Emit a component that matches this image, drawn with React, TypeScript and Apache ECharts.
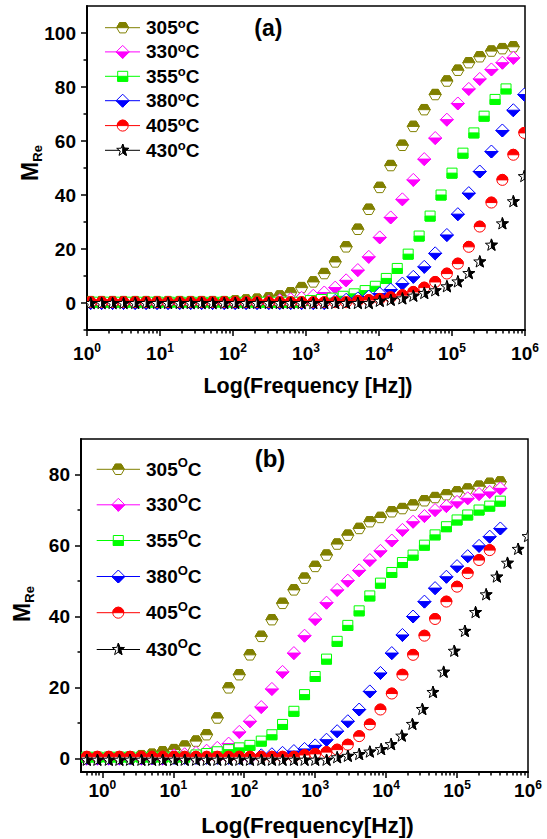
import React, { useEffect, useRef } from 'react';
import * as echarts from 'echarts';

// ---------- data ----------
const TEMPS = ['305', '330', '355', '380', '405', '430'];
const COLORS = ['#808000', '#FF00FF', '#00FF00', '#0000FF', '#FF0000', '#000000'];

// log10(frequency / Hz) of measured points
const LOGF_A = [0.05, 0.20, 0.35, 0.50, 0.66, 0.81, 0.96, 1.11, 1.27, 1.42, 1.57, 1.72, 1.88, 2.03, 2.18, 2.33, 2.49, 2.64, 2.79, 2.94,
  3.10, 3.25, 3.40, 3.55, 3.71, 3.86, 4.01, 4.16, 4.32, 4.47, 4.62, 4.77, 4.93, 5.08, 5.23, 5.38, 5.54, 5.69, 5.84, 5.99];
const LOGF_A_355 = [0.08, 0.23, 0.38, 0.53, 0.68, 0.83, 0.97, 1.12, 1.27, 1.42, 1.57, 1.72, 1.87, 2.02, 2.17, 2.32, 2.46, 2.61, 2.76, 2.91,
  3.06, 3.21, 3.36, 3.51, 3.66, 3.81, 3.95, 4.10, 4.25, 4.40, 4.55, 4.70, 4.85, 5.00, 5.15, 5.30, 5.44, 5.59, 5.74];
const LOGF_B = [-0.22, -0.07, 0.09, 0.24, 0.39, 0.55, 0.70, 0.85, 1.01, 1.16, 1.32, 1.47, 1.62, 1.78, 1.93, 2.08, 2.24, 2.39, 2.54, 2.70,
  2.85, 3.00, 3.16, 3.31, 3.46, 3.62, 3.77, 3.92, 4.08, 4.23, 4.38, 4.54, 4.69, 4.85, 5.00, 5.15, 5.31, 5.46, 5.61];
const LOGF_B_430 = [-0.22, -0.07, 0.09, 0.24, 0.39, 0.55, 0.70, 0.85, 1.01, 1.16, 1.32, 1.47, 1.62, 1.78, 1.93, 2.08, 2.24, 2.39, 2.54, 2.70,
  2.85, 3.00, 3.16, 3.31, 3.46, 3.62, 3.77, 3.93, 4.07, 4.22, 4.37, 4.51, 4.66, 4.81, 4.96, 5.11, 5.26, 5.41, 5.56, 5.71, 5.86, 6.00];

// panel (a) M_Re values
const A_305 = [0.5, 0.5, 0.5, 0.5, 0.5, 0.5, 0.5, 0.5, 0.5, 0.5, 0.5, 0.5, 0.5, 0.8, 1.1, 1.4, 1.9, 2.6, 3.8, 5.7,
  7.8, 10.9, 15.2, 20.8, 27.3, 34.7, 42.8, 50.9, 58.4, 65.4, 71.6, 77.2, 82.2, 86.2, 89.0, 91.2, 93.3, 94.2, 94.9];
const A_330 = [0.2, 0.2, 0.2, 0.2, 0.2, 0.2, 0.2, 0.2, 0.2, 0.2, 0.2, 0.2, 0.2, 0.2, 0.2, 0.2, 0.6, 1.0, 1.4, 1.9,
  2.7, 3.9, 5.7, 8.4, 12.2, 17.1, 24.3, 31.7, 38.4, 45.6, 53.3, 61.1, 67.9, 73.9, 79.3, 83.0, 86.5, 89.0, 90.8];
const A_355 = [0.3, 0.3, 0.3, 0.3, 0.3, 0.3, 0.3, 0.3, 0.3, 0.3, 0.3, 0.3, 0.3, 0.3, 0.3, 0.3, 0.3, 0.3, 0.3, 0.3,
  0.9, 1.3, 1.8, 2.5, 3.4, 4.6, 6.2, 9.1, 12.8, 18.1, 24.8, 32.2, 40.0, 48.1, 55.5, 63.0, 69.2, 75.4, 79.3];
const A_380 = [0, 0, 0, 0, 0, 0, 0, 0, 0, 0, 0, 0, 0, 0, 0, 0, 0, 0, 0, 0, 0, 0,
  0.8, 1.2, 1.7, 2.4, 3.5, 5.0, 7.2, 9.7, 13.4, 18.4, 25.2, 32.9, 40.7, 48.7, 56.1, 63.9, 71.4, 77.2];
const A_405 = [0.3, 0.3, 0.3, 0.3, 0.3, 0.3, 0.3, 0.3, 0.3, 0.3, 0.3, 0.3, 0.3, 0.3, 0.3, 0.3, 0.3, 0.3, 0.3, 0.3, 0.3, 0.3, 0.3, 0.3,
  0.8, 1.1, 1.5, 2.1, 2.9, 4.1, 5.7, 7.8, 10.9, 14.6, 20.8, 28.3, 37.2, 45.6, 54.9, 63.0];
const A_430 = [-0.2, -0.2, -0.2, -0.2, -0.2, -0.2, -0.2, -0.2, -0.2, -0.2, -0.2, -0.2, -0.2, -0.2, -0.2, -0.2, -0.2, -0.2, -0.2, -0.2,
  -0.2, -0.2, -0.2, -0.2, -0.2, -0.2, 0.6, 1.0, 1.5, 2.5, 3.5, 4.5, 6.0, 7.8, 10.9, 15.2, 21.4, 29.3, 37.5, 46.8];

// panel (b) M_Re values
const B_305 = [0.3, 0.3, 0.3, 0.3, 0.5, 0.8, 1.2, 1.9, 2.5, 3.5, 4.9, 6.7, 11.4, 19.9, 23.6, 29.2, 34.4, 39.1, 43.7, 47.5,
  50.8, 54.1, 57.3, 60.4, 62.9, 64.8, 66.7, 67.9, 69.5, 70.4, 71.4, 72.6, 73.5, 74.3, 75.1, 75.9, 76.7, 77.5, 77.9];
const B_330 = [0, 0, 0, 0, 0, 0, 0, 0, 0.9, 1.2, 1.6, 2.2, 3.0, 4.2, 7.5, 10.5, 14.5, 19.6, 24.4, 29.7,
  34.6, 39.3, 43.9, 47.5, 50.1, 53.0, 55.9, 58.5, 61.4, 64.4, 66.7, 68.3, 70.0, 71.1, 72.3, 73.3, 74.5, 75.1, 76.1];
const B_355 = [0.4, 0.4, 0.4, 0.4, 0.4, 0.4, 0.4, 0.4, 0.4, 0.4, 1.0, 1.4, 1.9, 2.5, 3.0, 3.7, 4.9, 6.7, 9.6, 13.3,
  18.0, 23.1, 28.0, 33.0, 37.5, 41.6, 45.8, 49.4, 52.4, 55.2, 57.3, 60.1, 63.0, 65.3, 67.2, 68.6, 70.0, 71.1, 72.5];
const B_380 = [0.2, 0.2, 0.2, 0.2, 0.2, 0.2, 0.2, 0.2, 0.2, 0.2, 0.2, 0.2, 0.2, 0.2, 0.2, 0.2, 0.9, 1.2, 1.6, 2.1,
  2.7, 3.7, 5.3, 7.7, 10.5, 13.8, 18.9, 24.1, 29.7, 34.8, 40.0, 44.2, 48.0, 51.2, 54.2, 57.0, 59.9, 62.5, 64.8];
const B_405 = [0.5, 0.5, 0.5, 0.5, 0.5, 0.5, 0.5, 0.5, 0.5, 0.5, 0.5, 0.5, 0.5, 0.5, 0.5, 0.5, 0.5, 0.5, 0.5, 0.5,
  1.0, 1.3, 1.8, 2.5, 3.9, 6.3, 9.6, 13.8, 18.3, 23.6, 29.2, 34.6, 39.3, 44.2, 48.4, 52.2, 55.9, 58.7];
const B_430 = [-0.5, -0.5, -0.5, -0.5, -0.5, -0.5, -0.5, -0.5, -0.5, -0.5, -0.5, -0.5, -0.5, -0.5, -0.5, -0.5, -0.5, -0.5, -0.5, -0.5,
  -0.5, -0.5, -0.5, 0.2, 0.6, 1.1, 1.8, 2.5, 3.9, 6.3, 9.6, 13.8, 18.6, 24.3, 30.2, 35.8, 41.1, 46.1, 51.1, 55.0, 58.9, 62.5];

// ticks
const X_TICK_EXP = [0, 1, 2, 3, 4, 5, 6];
const LOG_MULT = [2, 3, 4, 5, 6, 7, 8, 9];
const Y_TICKS_A = [0, 20, 40, 60, 80, 100];
const Y_MINOR_A = [-10, 10, 30, 50, 70, 90];
const Y_TICKS_B = [0, 20, 40, 60, 80];
const Y_MINOR_B = [10, 30, 50, 70];

// ---------- marker shapes ----------
const FONT = '"Liberation Sans", Arial, Helvetica, sans-serif';
const SHAPES: Record<string, { full: string; half: string }> = {
  hex: { full: 'M-6,0L-3,-5.2L3,-5.2L6,0L3,5.2L-3,5.2Z', half: 'M-6,0L-3,-5.2L3,-5.2L6,0Z' },
  diamond: { full: 'M0,-6.5L6.5,0L0,6.5L-6.5,0Z', half: 'M-6.5,0L6.5,0L0,6.5Z' },
  square: { full: 'M-5,-5L5,-5L5,5L-5,5Z', half: 'M-5,0L5,0L5,5L-5,5Z' },
  circle: { full: 'M-5.5,0A5.5,5.5,0,1,1,5.5,0A5.5,5.5,0,1,1,-5.5,0Z', half: 'M-5.5,0A5.5,5.5,0,0,1,5.5,0Z' },
  star: {
    full: 'M0,-6.3L1.53,-2.1L5.99,-1.95L2.47,0.8L3.7,5.1L0,2.6L-3.7,5.1L-2.47,0.8L-5.99,-1.95L-1.53,-2.1Z',
    half: 'M0,-6.3L1.53,-2.1L5.99,-1.95L2.47,0.8L3.7,5.1L0,2.6Z',
  },
};
const SERIES_SHAPE = ['hex', 'diamond', 'square', 'diamond', 'circle', 'star'];

let registered = false;
function registerShapes() {
  if (registered) return;
  registered = true;
  Object.keys(SHAPES).forEach((k) => {
    echarts.graphic.registerShape('mk_' + k + '_full', echarts.graphic.extendPath(SHAPES[k].full, {}) as any);
    echarts.graphic.registerShape('mk_' + k + '_half', echarts.graphic.extendPath(SHAPES[k].half, {}) as any);
  });
}

function zip(xs: number[], ys: number[]) {
  return ys.map((v, i) => [xs[i], v]);
}

function makeRender(i: number) {
  const shp = SHAPES[SERIES_SHAPE[i]];
  const color = COLORS[i];
  return (params: any, api: any) => {
    const p = api.coord([api.value(0), api.value(1)]);
    return {
      type: 'group',
      x: p[0],
      y: p[1],
      children: [
        { type: 'path', shape: { pathData: shp.full }, style: { fill: '#fff', stroke: color, lineWidth: 1 } },
        { type: 'path', shape: { pathData: shp.half }, style: { fill: color, stroke: color, lineWidth: 1 } },
      ],
    };
  };
}

function xLabelRich(size: number) {
  return {
    b: { fontSize: size, fontWeight: 'bold', fontFamily: FONT, color: '#000', lineHeight: 22, verticalAlign: 'middle' },
    s: { fontSize: 12, fontWeight: 'bold', fontFamily: FONT, color: '#000', lineHeight: 16, verticalAlign: 'top' },
  };
}

function axesFor(grid: number, xmin: number, ymin: number, ymax: number, yt: number[], ym: number[], xMargin: number) {
  const xMinor: number[] = [];
  for (let n = -1; n < 6; n++) {
    LOG_MULT.forEach((k) => {
      const v = n + Math.log10(k);
      if (v > xmin + 0.01 && v < 6) xMinor.push(v);
    });
  }
  const tickStyle = { color: '#000', width: 1.5 };
  const xAxes = [
    {
      gridIndex: grid, type: 'value', min: xmin, max: 6, position: 'bottom',
      axisLine: { show: true, onZero: false, lineStyle: { color: '#000', width: 2 } },
      axisTick: { show: true, customValues: X_TICK_EXP, length: 6, lineStyle: tickStyle },
      axisLabel: {
        show: true, customValues: X_TICK_EXP, margin: xMargin,
        formatter: (v: number) => `{b|10}{s|${Math.round(v)}}`,
        rich: xLabelRich(19),
      },
      splitLine: { show: false },
    },
    {
      gridIndex: grid, type: 'value', min: xmin, max: 6, position: 'bottom',
      axisLine: { show: false, onZero: false },
      axisTick: { show: true, customValues: xMinor, length: 3.5, lineStyle: tickStyle },
      axisLabel: { show: false },
      splitLine: { show: false },
    },
  ];
  const yAxes = [
    {
      gridIndex: grid, type: 'value', min: ymin, max: ymax, position: 'left',
      axisLine: { show: true, onZero: false, lineStyle: { color: '#000', width: 2 } },
      axisTick: { show: true, customValues: yt, length: 6, lineStyle: tickStyle },
      axisLabel: {
        show: true, customValues: yt, margin: 11,
        fontSize: 19, fontWeight: 'bold', fontFamily: FONT, color: '#000',
      },
      splitLine: { show: false },
    },
    {
      gridIndex: grid, type: 'value', min: ymin, max: ymax, position: 'left',
      axisLine: { show: false, onZero: false },
      axisTick: { show: true, customValues: ym, length: 3.5, lineStyle: tickStyle },
      axisLabel: { show: false },
      splitLine: { show: false },
    },
  ];
  return { xAxes, yAxes };
}

function legendGraphics(x1: number, x2: number, mx: number, tx: number, ys: number[], sup: string, supSize: number, lh: number) {
  const els: any[] = [];
  TEMPS.forEach((t, i) => {
    const y = ys[i];
    const k = SERIES_SHAPE[i];
    els.push({ type: 'line', shape: { x1, y1: y, x2, y2: y }, style: { stroke: COLORS[i], lineWidth: 1 } });
    els.push({ type: 'mk_' + k + '_full', x: mx, y, style: { fill: '#fff', stroke: COLORS[i], lineWidth: 1 } });
    els.push({ type: 'mk_' + k + '_half', x: mx, y, style: { fill: COLORS[i], stroke: COLORS[i], lineWidth: 1 } });
    els.push({
      type: 'text', x: tx, y,
      style: {
        text: `{n|${t}}{o|${sup}}{n|C}`,
        align: 'left', verticalAlign: 'middle',
        rich: {
          n: { fontSize: 19, fontWeight: 'bold', fontFamily: FONT, fill: '#000', lineHeight: lh, verticalAlign: 'middle' },
          o: { fontSize: supSize, fontWeight: 'bold', fontFamily: FONT, fill: '#000', lineHeight: supSize + 1, verticalAlign: 'top' },
        },
      },
    });
  });
  return els;
}

function textEl(x: number, y: number, text: string, size: number, extra: any = {}) {
  return {
    type: 'text', x, y, ...extra,
    style: { text, fontSize: size, fontWeight: 'bold', fontFamily: FONT, fill: '#000', align: 'center', verticalAlign: 'middle' },
  };
}

function mreLabel(x: number, y: number, size: number) {
  return {
    type: 'text', x, y, rotation: Math.PI / 2,
    style: {
      text: '{m|M}{r|Re}', align: 'center', verticalAlign: 'middle',
      rich: {
        m: { fontSize: size, fontWeight: 'bold', fontFamily: FONT, fill: '#000', lineHeight: 28, verticalAlign: 'middle' },
        r: { fontSize: 13, fontWeight: 'bold', fontFamily: FONT, fill: '#000', lineHeight: 14, verticalAlign: 'bottom' },
      },
    },
  };
}

function buildOption() {
  const a = axesFor(0, 0, -10, 110, Y_TICKS_A, Y_MINOR_A, 12);
  const b = axesFor(1, -0.301, -3.8, 90, Y_TICKS_B, Y_MINOR_B, 7);
  const panelA = [
    zip(LOGF_A, A_305), zip(LOGF_A, A_330), zip(LOGF_A_355, A_355),
    zip(LOGF_A, A_380), zip(LOGF_A, A_405), zip(LOGF_A, A_430),
  ];
  const panelB = [
    zip(LOGF_B, B_305), zip(LOGF_B, B_330), zip(LOGF_B, B_355),
    zip(LOGF_B, B_380), zip(LOGF_B, B_405), zip(LOGF_B_430, B_430),
  ];
  const series: any[] = [];
  panelA.forEach((d, i) => series.push({
    type: 'custom', name: 'a' + TEMPS[i], xAxisIndex: 0, yAxisIndex: 0, clip: true, silent: true,
    encode: { x: 0, y: 1 }, data: d, renderItem: makeRender(i),
  }));
  panelB.forEach((d, i) => series.push({
    type: 'custom', name: 'b' + TEMPS[i], xAxisIndex: 2, yAxisIndex: 2, clip: true, silent: true,
    encode: { x: 0, y: 1 }, data: d, renderItem: makeRender(i),
  }));

  const graphic: any[] = [
    ...legendGraphics(105, 140, 122.7, 146, [27.7, 51.9, 76.3, 100.7, 125.6, 150.3], 'o', 13, 22),
    ...legendGraphics(96.7, 140, 118.3, 146, [469.3, 504.8, 540.5, 576.5, 612.7, 649.5], 'O', 13, 26),
    textEl(268.3, 28, '(a)', 23),
    textEl(270, 458, '(b)', 24),
    textEl(308, 385.5, 'Log(Frequency [Hz])', 21.5),
    textEl(307.5, 825, 'Log(Frequency[Hz])', 22.5),
    mreLabel(30, 163, 23),
    mreLabel(22, 604, 23),
  ];

  return {
    animation: false,
    backgroundColor: '#fff',
    grid: [
      { left: 87, top: 6, width: 438, height: 324, show: true, borderColor: '#000', borderWidth: 1.5, backgroundColor: 'transparent' },
      { left: 81, top: 439, width: 447, height: 333, show: true, borderColor: '#000', borderWidth: 1.5, backgroundColor: 'transparent' },
    ],
    xAxis: [...a.xAxes, ...b.xAxes],
    yAxis: [...a.yAxes, ...b.yAxes],
    series,
    graphic,
  };
}

export default function App() {
  const ref = useRef<HTMLDivElement>(null);
  useEffect(() => {
    if (!ref.current) return;
    registerShapes();
    const chart = echarts.init(ref.current, null, { renderer: 'svg', width: 547, height: 839 });
    chart.setOption(buildOption() as any);
    return () => chart.dispose();
  }, []);
  return <div ref={ref} style={{ position: 'absolute', left: 0, top: 0, width: 547, height: 839, background: '#fff' }} />;
}
